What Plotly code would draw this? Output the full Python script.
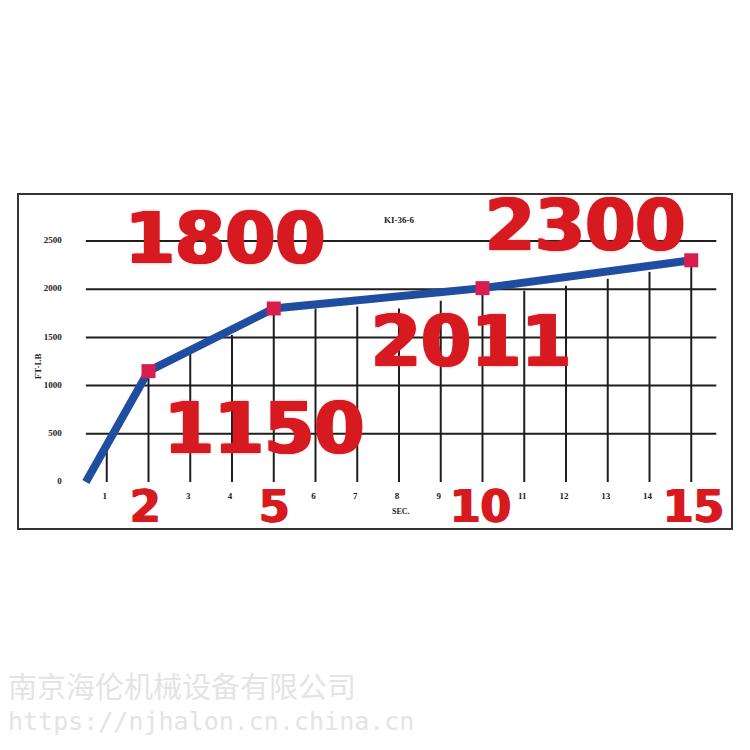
import plotly.graph_objects as go

# torque curve (seconds vs FT-LB)
sec = [0.5, 2, 5, 10, 15]
torque = [0, 1150, 1800, 2011, 2300]

# highlighted points and their big labels
mark_sec = [2, 5, 10, 15]
mark_val = [1150, 1800, 2011, 2300]
mark_text = ['1150', '1800', '2011', '2300']

# grid
x_ticks = list(range(1, 16))
x_tick_tops = [330, 1150, 1340, 1525, 1800, 1800, 1820, 1800, 1880, 2011, 1985, 2037, 2108, 2180, 2300]
y_ticks = [0, 500, 1000, 1500, 2000, 2500]

RED = '#d71920'
BLUE = '#1f4ea0'
GRID = '#1e1e1e'
INK = '#222'

# the page body has an 8px margin, so work in page pixels minus 8
OFF = 8
px_per_sec = 41.75
px_per_unit = 48.2 / 500
x0_px = 65 - OFF
y0_px = 482 - OFF
x_range = [-x0_px / px_per_sec, (750 - x0_px) / px_per_sec]
y_range = [(y0_px - 750) / px_per_unit, y0_px / px_per_unit]


def px(x):
    return (x - OFF) / 750


def py(y):
    return 1 - (y - OFF) / 750


fig = go.Figure()

# horizontal grid lines
hx, hy = [], []
for v in y_ticks[1:]:
    hx += [0.5, 15.6, None]
    hy += [v, v, None]
fig.add_trace(go.Scatter(x=hx, y=hy, mode='lines', line=dict(color=GRID, width=2), hoverinfo='skip'))

# vertical grid lines, from 0 up to the curve
vx, vy = [], []
for s, top in zip(x_ticks, x_tick_tops):
    vx += [s, s, None]
    vy += [0, top, None]
fig.add_trace(go.Scatter(x=vx, y=vy, mode='lines', line=dict(color=GRID, width=2), hoverinfo='skip'))

# the curve
fig.add_trace(go.Scatter(x=sec, y=torque, mode='lines', line=dict(color=BLUE, width=8)))
fig.add_trace(go.Scatter(x=mark_sec, y=mark_val, mode='markers',
                         marker=dict(symbol='square', size=14, color='#d81e4c')))

# tick labels (the highlighted seconds get big red numbers instead)
small_x = [s for s in x_ticks if s not in mark_sec]
tick_font = dict(family='Liberation Serif', size=9, color=INK, weight='bold')
fig.add_trace(go.Scatter(x=[-0.08] * len(y_ticks), y=y_ticks, mode='text', text=[str(v) for v in y_ticks],
                         textposition='middle left', textfont=tick_font))
fig.add_trace(go.Scatter(x=[s - 0.05 for s in small_x], y=[-155] * len(small_x), mode='text',
                         text=[str(s) for s in small_x], textposition='middle center', textfont=tick_font))

annos = []
big_shift = {'1150': (115, -57), '1800': (-49, 70), '2011': (-12, -53), '2300': (-106, 35)}
for s, v, t in zip(mark_sec, mark_val, mark_text):
    dx, dy = big_shift[t]
    annos.append(dict(x=s, y=v, text=t, showarrow=False, xshift=dx, yshift=dy,
                      font=dict(family='DejaVu Sans', size=72, color=RED, weight='bold',
                                shadow='1.5px 0 0 #d71920, -1.5px 0 0 #d71920, 0 0 3px rgba(230,90,100,0.6)')))
small_shift = {2: -3, 5: 1, 10: -2, 15: 2}
for s in mark_sec:
    annos.append(dict(x=s, y=0, text=str(s), showarrow=False, xshift=small_shift[s], yshift=-24,
                      font=dict(family='DejaVu Sans', size=44, color=RED, weight='bold',
                                shadow='1px 0 0 #d71920, -1px 0 0 #d71920')))

annos += [
    dict(x=8.05, y=-155, text='SEC.', showarrow=False, yshift=-15,
         font=dict(family='Liberation Serif', size=8, color=INK, weight='bold')),
    dict(x=-0.65, y=1200, text='FT-LB', showarrow=False, textangle=-90,
         font=dict(family='Liberation Serif', size=9, color=INK, weight='bold')),
    dict(x=8, y=2720, text='KI-36-6', showarrow=False,
         font=dict(family='Liberation Serif', size=9, color=INK, weight='bold')),
    dict(x=px(6), y=py(685), xref='paper', yref='paper', xanchor='left', yanchor='middle', showarrow=False,
         text='南京海伦机械设备有限公司',
         font=dict(family='Noto Sans CJK SC', size=29, color='#e4e4e4')),
    dict(x=px(6), y=py(721), xref='paper', yref='paper', xanchor='left', yanchor='middle', showarrow=False,
         text='https://njhalon.cn.china.cn',
         font=dict(family='DejaVu Sans Mono', size=25, color='#e4e4e4')),
]

fig.update_layout(
    width=750, height=750, autosize=False,
    margin=dict(l=0, r=0, t=0, b=0),
    paper_bgcolor='white', plot_bgcolor='white',
    showlegend=False,
    xaxis=dict(range=x_range, visible=False, fixedrange=True),
    yaxis=dict(range=y_range, visible=False, fixedrange=True),
    annotations=annos,
    shapes=[dict(type='rect', xref='paper', yref='paper', layer='below',
                 x0=px(18), x1=px(732), y0=py(529), y1=py(194),
                 line=dict(color='#333', width=2), fillcolor='white')],
)

fig.write_html("out.html")
